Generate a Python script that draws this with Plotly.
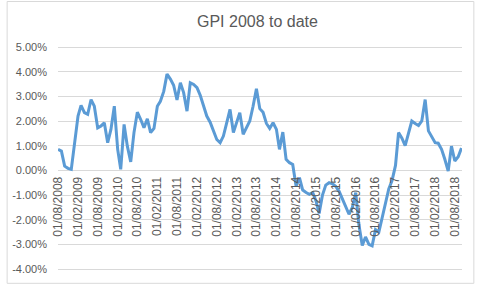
import pandas as pd
import plotly.graph_objects as go

# ---- data (GPI year-on-year change, %; monthly from Aug 2008) ----
start_month = "2008-08-01"
gpi_pct = [
    0.85, 0.78, 0.17, 0.08, 0.04, 1.12, 2.20, 2.63, 2.34, 2.27,
    2.87, 2.60, 1.72, 1.80, 1.93, 1.12, 1.66, 2.60, 0.85, 0.04,
    1.86, 0.98, 0.34, 1.53, 2.36, 2.06, 1.73, 2.09, 1.53, 1.70,
    2.60, 2.80, 3.20, 3.90, 3.70, 3.45, 2.85, 3.55, 3.15, 2.40,
    3.55, 3.48, 3.35, 3.05, 2.60, 2.20, 1.95, 1.60, 1.25, 1.12,
    1.39, 1.93, 2.47, 1.53, 2.00, 2.34, 1.46, 1.73, 2.00, 2.60,
    3.31, 2.50, 2.35, 1.90, 1.70, 1.93, 1.66, 0.85, 1.55, 0.45,
    0.31, 0.24, -0.64, -0.30, -0.80, -0.90, -0.97, -0.90, -1.25, -1.75,
    -1.00, -0.60, -0.50, -0.55, -0.65, -0.85, -1.15, -1.50, -1.78, -1.50,
    -0.90, -2.20, -3.05, -2.70, -3.00, -3.06, -2.40, -2.50, -1.95, -1.30,
    -0.75, -0.40, 0.20, 1.53, 1.30, 1.00, 1.50, 2.00, 1.90, 1.82,
    2.00, 2.87, 1.60, 1.35, 1.12, 1.10, 0.85, 0.45, -0.03, 0.98,
    0.38, 0.55, 0.90,
]
x_tick_labels = [
    "01/08/2008", "01/02/2009", "01/08/2009", "01/02/2010", "01/08/2010",
    "01/02/2011", "01/08/2011", "01/02/2012", "01/08/2012", "01/02/2013",
    "01/08/2013", "01/02/2014", "01/08/2014", "01/02/2015", "01/08/2015",
    "01/02/2016", "01/08/2016", "01/02/2017", "01/08/2017", "01/02/2018",
    "01/08/2018",
]
y_tick_values = [-4, -3, -2, -1, 0, 1, 2, 3, 4, 5]
y_tick_labels = ["-4.00%", "-3.00%", "-2.00%", "-1.00%", "0.00%",
                 "1.00%", "2.00%", "3.00%", "4.00%", "5.00%"]
title_text = "GPI 2008 to date"

dates = pd.date_range(start=start_month, periods=len(gpi_pct), freq="MS")
x_tick_vals = [pd.to_datetime(s, dayfirst=True) for s in x_tick_labels]

# ---- layout geometry (pixels) ----
W, H = 480, 291
PAD = 0.08                      # extra range (in %) so edge gridlines are drawn
PX_PER_PCT = 222 / 9
L, R = 53, 462
T = round(47 - PAD * PX_PER_PCT)
B = round(269 + PAD * PX_PER_PCT)
grey_txt = "#595959"
grid = "#D9D9D9"
FONT = "Liberation Sans, Arial, sans-serif"

fig = go.Figure(go.Scatter(
    x=dates, y=gpi_pct, mode="lines",
    line=dict(color="#5B9BD5", width=3),
    hoverinfo="skip",
))

y_lo = y_tick_values[0] - (269 - 47 + 0) * 0 - (B - 269) / PX_PER_PCT
y_hi = y_tick_values[-1] + (47 - T) / PX_PER_PCT
zero_pos = (0 - y_lo) / (y_hi - y_lo)

fig.update_layout(
    width=W, height=H,
    margin=dict(l=L, r=W - R, t=T, b=H - B, pad=0),
    paper_bgcolor="white", plot_bgcolor="white",
    showlegend=False,
    font=dict(family=FONT, color=grey_txt),
    title=dict(text=title_text, x=237 / W, xanchor="center",
               xref="paper", yref="container", y=1 - 21 / H, yanchor="middle",
               font=dict(size=16, color=grey_txt, family=FONT)),
    xaxis=dict(
        range=[pd.Timestamp("2008-07-31 18:00"), pd.Timestamp("2018-10-06")],
        tickvals=x_tick_vals, ticktext=x_tick_labels, tickangle=-90,
        showgrid=False, zeroline=False, showline=False,
        anchor="free", position=zero_pos, ticks="",
        ticklabelstandoff=3,
        tickfont=dict(size=12, color=grey_txt, family=FONT),
    ),
    yaxis=dict(
        range=[y_lo, y_hi], tickvals=y_tick_values, ticktext=y_tick_labels,
        showgrid=True, gridcolor=grid, gridwidth=1,
        zeroline=False, showline=False, ticks="",
        ticklabelstandoff=10,
        tickfont=dict(size=11, color=grey_txt, family=FONT),
    ),
)

# chart-area border (Excel style)
pw, ph = R - L, B - T
fig.add_shape(type="rect", xref="paper", yref="paper",
              x0=(1.5 - L) / pw, x1=(474 - L) / pw,
              y0=(B - 283.3) / ph, y1=(B - 1.5) / ph,
              line=dict(color=grid, width=1), fillcolor="rgba(0,0,0,0)", layer="below")

fig.write_html("out.html")
